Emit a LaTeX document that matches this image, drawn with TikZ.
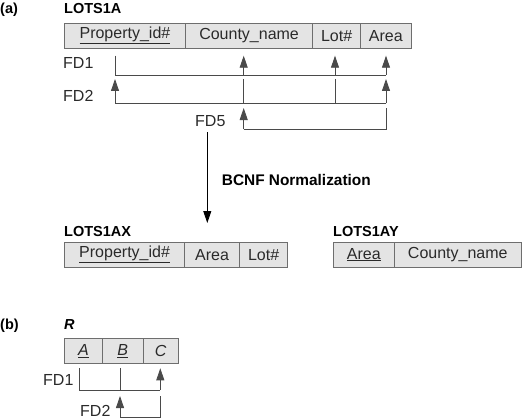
\documentclass[tikz,border=0pt]{standalone}
\usepackage{fontspec}
\setmainfont{Liberation Sans}
\usetikzlibrary{arrows.meta}
\definecolor{cellfill}{HTML}{E4E4E4}
\definecolor{celldraw}{HTML}{6E6E6E}
\definecolor{txt}{HTML}{2A2A2A}
\definecolor{conn}{HTML}{4A4A4A}
\tikzset{
  cell/.style={draw=celldraw, fill=cellfill, line width=0.9pt, minimum height=25pt,
    inner sep=0pt, anchor=north west, text=txt, font=\fontsize{16}{19}\selectfont},
  lbl/.style={anchor=base west, inner sep=0pt, text=txt, font=\fontsize{16}{19}\selectfont},
  head/.style={anchor=base west, inner sep=0pt, text=black, font=\fontsize{14.5}{17}\selectfont\bfseries},
  fdline/.style={draw=conn, line width=0.85pt},
  fdarrow/.style={fdline, -{Triangle[length=12pt,width=8pt]}}
}
\begin{document}
\begin{tikzpicture}[x=1pt,y=-1pt]
\useasboundingbox (0,0) rectangle (525,420);
% ---------- (a) ----------
\node[head] (la) at (0,13.5) {(a)};
\node[head] (lots1a) at (64,13.5) {LOTS1A};
\node[cell, minimum width=121pt] (pid) at (64,22.7) {\underline{Property\_id\#}};
\node[cell, minimum width=127.3pt] (cn) at (185,22.7) {County\_name};
\node[cell, minimum width=47.7pt] (lot) at (312.3,22.7) {Lot\#};
\node[cell, minimum width=50.7pt] (ar) at (360,22.7) {Area};

\node[lbl] (fd1) at (63,68.3) {FD1};
\node[lbl] (fd2) at (63,101.7) {FD2};
\node[lbl] (fd5) at (195,126.7) {FD5};

% FD1
\coordinate (f1a) at (115,55.7);
\coordinate (f1b) at (115,75);
\coordinate (f1c) at (243.7,75);
\coordinate (f1d) at (335,75);
\coordinate (f1e) at (386,75);
\coordinate (t1c) at (243.7,55.7);
\coordinate (t1d) at (335,55.7);
\coordinate (t1e) at (386,55.7);
\draw[fdline] (f1a) -- (f1b) -- (f1e);
\draw[fdarrow] (f1c) -- (t1c);
\draw[fdarrow] (f1d) -- (t1d);
\draw[fdarrow] (f1e) -- (t1e);
% FD2
\coordinate (f2a) at (115,103.3);
\coordinate (f2b) at (243.7,103.3);
\coordinate (f2c) at (335,103.3);
\coordinate (f2d) at (386,103.3);
\coordinate (s2b) at (243.7,79);
\coordinate (s2c) at (335,79);
\coordinate (t2a) at (115,79);
\coordinate (t2d) at (386,79);
\draw[fdline] (f2a) -- (f2d);
\draw[fdline] (s2b) -- (f2b);
\draw[fdline] (s2c) -- (f2c);
\draw[fdarrow] (f2a) -- (t2a);
\draw[fdarrow] (f2d) -- (t2d);
% FD5
\coordinate (f5a) at (243.7,129.3);
\coordinate (f5b) at (386,129.3);
\coordinate (s5b) at (386,108);
\coordinate (t5a) at (243.7,108);
\draw[fdline] (s5b) -- (f5b) -- (f5a);
\draw[fdarrow] (f5a) -- (t5a);

% normalization arrow
\coordinate (nstart) at (207.3,132);
\coordinate (nend) at (207.3,223);
\draw[fdarrow, draw=black] (nstart) -- (nend);
\node[head, font=\fontsize{15.4}{18}\selectfont\bfseries] (bcnf) at (221.7,185.7) {BCNF Normalization};

% LOTS1AX
\node[head] (lots1ax) at (64,236.7) {LOTS1AX};
\node[cell, minimum width=120.3pt] (xpid) at (64,241.7) {\underline{Property\_id\#}};
\node[cell, minimum width=54.7pt] (xar) at (184.3,241.7) {Area};
\node[cell, minimum width=48.3pt] (xlot) at (239,241.7) {Lot\#};
% LOTS1AY
\node[head] (lots1ay) at (333,236.7) {LOTS1AY};
\node[cell, minimum width=61.3pt] (yar) at (332.7,241.7) {\underline{Area}};
\node[cell, minimum width=126.7pt] (ycn) at (394,241.7) {County\_name};

% ---------- (b) ----------
\node[head] (lb) at (0,329) {(b)};
\node[head] (r) at (64,329) {\itshape R};
\node[cell, minimum width=37.4pt] (ca) at (64.3,338.3) {\underline{\itshape A}};
\node[cell, minimum width=41pt] (cb) at (101.7,338.3) {\underline{\itshape B}};
\node[cell, minimum width=35pt] (cc) at (142.7,338.3) {\itshape C};

\node[lbl] (bfd1) at (43,385) {FD1};
\node[lbl] (bfd2) at (80,416.7) {FD2};

\coordinate (b1a) at (79.3,368.3);
\coordinate (b1b) at (79.3,390);
\coordinate (b1c) at (120,390);
\coordinate (b1s) at (120,368.3);
\coordinate (b1d) at (160.3,390);
\coordinate (b1t) at (160.3,368.3);
\draw[fdline] (b1a) -- (b1b) -- (b1d);
\draw[fdline] (b1s) -- (b1c);
\draw[fdarrow] (b1d) -- (b1t);

\coordinate (b2a) at (120,417.3);
\coordinate (b2t) at (120,396);
\coordinate (b2b) at (160.3,417.3);
\coordinate (b2s) at (160.3,396);
\draw[fdline] (b2s) -- (b2b) -- (b2a);
\draw[fdarrow] (b2a) -- (b2t);
\end{tikzpicture}
\end{document}
